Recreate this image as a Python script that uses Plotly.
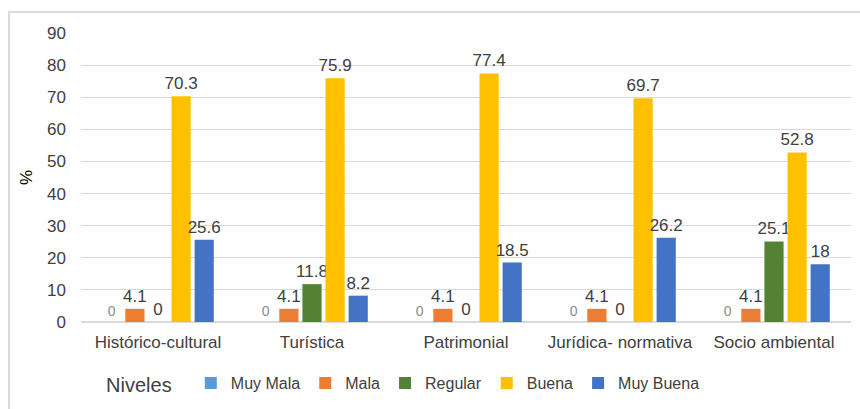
import plotly.graph_objects as go

categorias = ["Histórico-cultural", "Turística", "Patrimonial", "Jurídica- normativa", "Socio ambiental"]
niveles = ["Muy Mala", "Mala", "Regular", "Buena", "Muy Buena"]

muy_mala = [0, 0, 0, 0, 0]
mala = [4.1, 4.1, 4.1, 4.1, 4.1]
regular = [0, 11.8, 0, 0, 25.1]
buena = [70.3, 75.9, 77.4, 69.7, 52.8]
muy_buena = [25.6, 8.2, 18.5, 26.2, 18]

colores = ["#5B9BD5", "#ED7D31", "#548235", "#FFC000", "#4472C4"]
series = [muy_mala, mala, regular, buena, muy_buena]

fig = go.Figure()
for nombre, valores, color in zip(niveles, series, colores):
    tenue = nombre == "Muy Mala"
    fig.add_trace(go.Bar(
        name=nombre,
        x=categorias,
        y=valores,
        marker=dict(color=color, line=dict(width=0)),
        text=[f"{v:g}" for v in valores],
        textposition="outside",
        constraintext="none",
        textfont=dict(size=14 if tenue else 17, color="#8c8c8c" if tenue else "#404040"),
        cliponaxis=False,
    ))

fig.update_layout(
    width=860,
    height=409,
    barmode="group",
    bargap=0.25,
    bargroupgap=0.17,
    plot_bgcolor="white",
    paper_bgcolor="white",
    font=dict(family="Liberation Sans, Arial, sans-serif", color="#404040", size=15),
    margin=dict(l=81, r=9, t=33, b=87, autoexpand=False),
    showlegend=True,
    legend=dict(
        orientation="h",
        x=0.03, xanchor="left",
        y=-0.215, yanchor="middle",
        title=dict(text="Niveles  ", font=dict(size=20, color="#404040")),
        font=dict(size=16, color="#404040"),
        itemwidth=30,
        traceorder="normal",
    ),
    shapes=[dict(
        type="rect", xref="paper", yref="paper",
        x0=-0.0935, x1=1.05, y0=-0.4, y1=1.0727,
        line=dict(color="#d9d9d9", width=2),
        layer="below",
    )],
)

fig.update_yaxes(
    range=[0, 90],
    dtick=10,
    showgrid=True,
    gridcolor="#d9d9d9",
    gridwidth=1,
    zeroline=True,
    zerolinecolor="#d9d9d9",
    showline=False,
    ticks="",
    ticklabelstandoff=14,
    tickfont=dict(size=17, color="#404040"),
    title=dict(text="%", font=dict(size=17, color="#000000"), standoff=10),
)
fig.update_xaxes(
    showgrid=False,
    showline=False,
    ticks="",
    ticklabelstandoff=8,
    tickfont=dict(size=17, color="#404040"),
)

fig.write_html(
    "out.html",
    config={"displayModeBar": False},
    post_script="document.body.style.margin='0';",
)
